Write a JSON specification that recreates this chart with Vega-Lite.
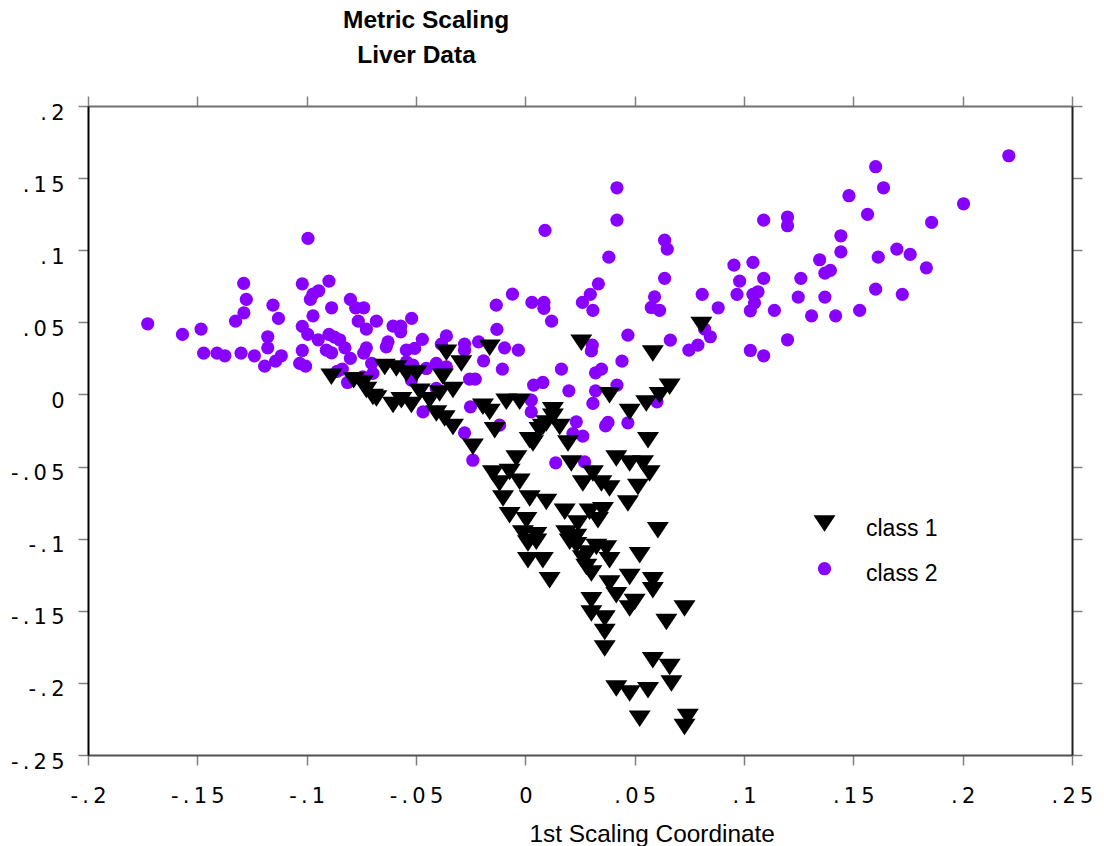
{
  "$schema": "https://vega.github.io/schema/vega-lite/v6.json",
  "autosize": {"type": "none"},
  "width": 984,
  "height": 649,
  "padding": {"left": 88, "top": 106, "right": 32, "bottom": 91},
  "background": "white",
  "title": {
    "text": ["Metric Scaling", "\u200b\u2002\u200aLiver Data"],
    "anchor": "start",
    "frame": "group",
    "dx": 255,
    "offset": 27,
    "font": "Liberation Sans",
    "fontSize": 24.5,
    "fontWeight": "bold",
    "lineHeight": 35,
    "color": "black"
  },
  "config": {
    "view": {"stroke": null},
    "axis": {
      "grid": false,
      "labelFont": "DejaVu Sans",
      "labelFontSize": 21,
      "labelColor": "black",
      "titleFont": "Liberation Sans",
      "titleFontSize": 24.4,
      "titleFontWeight": "normal",
      "titleColor": "black",
      "tickSize": 10,
      "tickColor": "#808080",
      "tickWidth": 1.5,
      "domainWidth": 2
    },
    "legend": {
      "labelFont": "Liberation Sans",
      "labelFontSize": 23,
      "labelColor": "black",
      "symbolStrokeWidth": 0,
      "padding": 0
    }
  },
  "layer": [
    {
      "mark": {"type": "rule", "color": "#c0c0c0", "strokeWidth": 2},
      "encoding": {
        "x": {
          "datum": 0,
          "type": "quantitative",
          "scale": {"domain": [-0.2, 0.25], "nice": false, "zero": false},
          "axis": {"orient": "top", "labels": false, "title": null, "values": [-0.2, -0.15, -0.1, -0.05, 0, 0.05, 0.1, 0.15, 0.2, 0.25], "domainColor": "#707070"}
        }
      }
    },
    {
      "mark": {"type": "rule", "color": "#c0c0c0", "strokeWidth": 2},
      "encoding": {
        "y": {
          "datum": 0,
          "type": "quantitative",
          "scale": {"domain": [-0.25, 0.2], "nice": false, "zero": false},
          "axis": {"orient": "right", "labels": false, "title": null, "values": [-0.25, -0.2, -0.15, -0.1, -0.05, 0, 0.05, 0.1, 0.15, 0.2], "domainColor": "#202020"}
        }
      }
    },
    {
      "data": {
        "values": [
          {"class": "class 2", "x": -0.1727, "y": 0.0490},
          {"class": "class 2", "x": -0.1568, "y": 0.0416},
          {"class": "class 2", "x": -0.1483, "y": 0.0453},
          {"class": "class 2", "x": -0.1471, "y": 0.0286},
          {"class": "class 2", "x": -0.1410, "y": 0.0286},
          {"class": "class 2", "x": -0.1374, "y": 0.0268},
          {"class": "class 2", "x": -0.1300, "y": 0.0286},
          {"class": "class 2", "x": -0.1239, "y": 0.0268},
          {"class": "class 2", "x": -0.1192, "y": 0.0196},
          {"class": "class 2", "x": -0.1142, "y": 0.0231},
          {"class": "class 2", "x": -0.1116, "y": 0.0268},
          {"class": "class 2", "x": -0.1178, "y": 0.0400},
          {"class": "class 2", "x": -0.1178, "y": 0.0323},
          {"class": "class 2", "x": -0.1154, "y": 0.0619},
          {"class": "class 2", "x": -0.1129, "y": 0.0527},
          {"class": "class 2", "x": -0.1288, "y": 0.0770},
          {"class": "class 2", "x": -0.1276, "y": 0.0659},
          {"class": "class 2", "x": -0.1287, "y": 0.0566},
          {"class": "class 2", "x": -0.1325, "y": 0.0508},
          {"class": "class 2", "x": -0.0994, "y": 0.1082},
          {"class": "class 2", "x": -0.1020, "y": 0.0767},
          {"class": "class 2", "x": -0.0983, "y": 0.0659},
          {"class": "class 2", "x": -0.0971, "y": 0.0696},
          {"class": "class 2", "x": -0.0945, "y": 0.0719},
          {"class": "class 2", "x": -0.0898, "y": 0.0786},
          {"class": "class 2", "x": -0.0886, "y": 0.0601},
          {"class": "class 2", "x": -0.0971, "y": 0.0545},
          {"class": "class 2", "x": -0.1020, "y": 0.0472},
          {"class": "class 2", "x": -0.0995, "y": 0.0416},
          {"class": "class 2", "x": -0.0947, "y": 0.0379},
          {"class": "class 2", "x": -0.0898, "y": 0.0416},
          {"class": "class 2", "x": -0.0873, "y": 0.0397},
          {"class": "class 2", "x": -0.0849, "y": 0.0379},
          {"class": "class 2", "x": -0.1020, "y": 0.0305},
          {"class": "class 2", "x": -0.1032, "y": 0.0215},
          {"class": "class 2", "x": -0.1005, "y": 0.0196},
          {"class": "class 2", "x": -0.0910, "y": 0.0307},
          {"class": "class 2", "x": -0.0886, "y": 0.0289},
          {"class": "class 2", "x": -0.0825, "y": 0.0323},
          {"class": "class 2", "x": -0.0800, "y": 0.0250},
          {"class": "class 2", "x": -0.0800, "y": 0.0659},
          {"class": "class 2", "x": -0.0776, "y": 0.0601},
          {"class": "class 2", "x": -0.0739, "y": 0.0601},
          {"class": "class 2", "x": -0.0764, "y": 0.0508},
          {"class": "class 2", "x": -0.0727, "y": 0.0453},
          {"class": "class 2", "x": -0.0681, "y": 0.0508},
          {"class": "class 2", "x": -0.0727, "y": 0.0323},
          {"class": "class 2", "x": -0.0739, "y": 0.0286},
          {"class": "class 2", "x": -0.0703, "y": 0.0215},
          {"class": "class 2", "x": -0.0861, "y": 0.0160},
          {"class": "class 2", "x": -0.0837, "y": 0.0176},
          {"class": "class 2", "x": -0.0813, "y": 0.0083},
          {"class": "class 2", "x": -0.0743, "y": 0.0122},
          {"class": "class 2", "x": -0.0697, "y": 0.0146},
          {"class": "class 2", "x": -0.0605, "y": 0.0474},
          {"class": "class 2", "x": -0.0570, "y": 0.0474},
          {"class": "class 2", "x": -0.0570, "y": 0.0434},
          {"class": "class 2", "x": -0.0520, "y": 0.0527},
          {"class": "class 2", "x": -0.0628, "y": 0.0365},
          {"class": "class 2", "x": -0.0636, "y": 0.0330},
          {"class": "class 2", "x": -0.0544, "y": 0.0307},
          {"class": "class 2", "x": -0.0506, "y": 0.0319},
          {"class": "class 2", "x": -0.0471, "y": 0.0382},
          {"class": "class 2", "x": -0.0361, "y": 0.0406},
          {"class": "class 2", "x": -0.0384, "y": 0.0349},
          {"class": "class 2", "x": -0.0278, "y": 0.0349},
          {"class": "class 2", "x": -0.0278, "y": 0.0307},
          {"class": "class 2", "x": -0.0214, "y": 0.0365},
          {"class": "class 2", "x": -0.0133, "y": 0.0619},
          {"class": "class 2", "x": -0.0059, "y": 0.0696},
          {"class": "class 2", "x": -0.0130, "y": 0.0451},
          {"class": "class 2", "x": -0.0095, "y": 0.0323},
          {"class": "class 2", "x": -0.0032, "y": 0.0307},
          {"class": "class 2", "x": -0.0191, "y": 0.0233},
          {"class": "class 2", "x": -0.0105, "y": 0.0176},
          {"class": "class 2", "x": -0.0255, "y": 0.0106},
          {"class": "class 2", "x": -0.0229, "y": 0.0106},
          {"class": "class 2", "x": 0.0030, "y": 0.0638},
          {"class": "class 2", "x": 0.0085, "y": 0.0638},
          {"class": "class 2", "x": 0.0085, "y": 0.0597},
          {"class": "class 2", "x": 0.0038, "y": 0.0065},
          {"class": "class 2", "x": 0.0080, "y": 0.0083},
          {"class": "class 2", "x": 0.0120, "y": 0.0508},
          {"class": "class 2", "x": -0.0544, "y": 0.0226},
          {"class": "class 2", "x": -0.0514, "y": 0.0203},
          {"class": "class 2", "x": -0.0453, "y": 0.0180},
          {"class": "class 2", "x": -0.0407, "y": 0.0215},
          {"class": "class 2", "x": -0.0361, "y": 0.0191},
          {"class": "class 2", "x": -0.0407, "y": 0.0042},
          {"class": "class 2", "x": -0.0521, "y": 0.0099},
          {"class": "class 2", "x": -0.0468, "y": -0.0121},
          {"class": "class 2", "x": -0.0251, "y": -0.0086},
          {"class": "class 2", "x": -0.0118, "y": -0.0213},
          {"class": "class 2", "x": -0.0278, "y": -0.0266},
          {"class": "class 2", "x": -0.0240, "y": -0.0456},
          {"class": "class 2", "x": 0.0027, "y": -0.0040},
          {"class": "class 2", "x": 0.0027, "y": -0.0121},
          {"class": "class 2", "x": 0.0165, "y": 0.0176},
          {"class": "class 2", "x": 0.0199, "y": 0.0025},
          {"class": "class 2", "x": 0.0321, "y": 0.0150},
          {"class": "class 2", "x": 0.0348, "y": 0.0176},
          {"class": "class 2", "x": 0.0306, "y": 0.0342},
          {"class": "class 2", "x": 0.0302, "y": 0.0302},
          {"class": "class 2", "x": 0.0469, "y": 0.0411},
          {"class": "class 2", "x": 0.0442, "y": 0.0231},
          {"class": "class 2", "x": 0.0419, "y": 0.0065},
          {"class": "class 2", "x": 0.0321, "y": 0.0025},
          {"class": "class 2", "x": 0.0309, "y": -0.0062},
          {"class": "class 2", "x": 0.0663, "y": 0.0377},
          {"class": "class 2", "x": 0.0748, "y": 0.0307},
          {"class": "class 2", "x": 0.0789, "y": 0.0342},
          {"class": "class 2", "x": 0.0233, "y": -0.0190},
          {"class": "class 2", "x": 0.0218, "y": -0.0271},
          {"class": "class 2", "x": 0.0263, "y": -0.0289},
          {"class": "class 2", "x": 0.0378, "y": -0.0194},
          {"class": "class 2", "x": 0.0367, "y": -0.0218},
          {"class": "class 2", "x": 0.0469, "y": -0.0197},
          {"class": "class 2", "x": 0.0139, "y": -0.0474},
          {"class": "class 2", "x": 0.0271, "y": -0.0468},
          {"class": "class 2", "x": 0.0602, "y": -0.0051},
          {"class": "class 2", "x": 0.0419, "y": 0.1433},
          {"class": "class 2", "x": 0.0419, "y": 0.1209},
          {"class": "class 2", "x": 0.0090, "y": 0.1138},
          {"class": "class 2", "x": 0.0637, "y": 0.1070},
          {"class": "class 2", "x": 0.0649, "y": 0.1008},
          {"class": "class 2", "x": 0.0382, "y": 0.0952},
          {"class": "class 2", "x": 0.0334, "y": 0.0767},
          {"class": "class 2", "x": 0.0297, "y": 0.0694},
          {"class": "class 2", "x": 0.0261, "y": 0.0638},
          {"class": "class 2", "x": 0.0309, "y": 0.0583},
          {"class": "class 2", "x": 0.0637, "y": 0.0805},
          {"class": "class 2", "x": 0.0591, "y": 0.0677},
          {"class": "class 2", "x": 0.0576, "y": 0.0603},
          {"class": "class 2", "x": 0.0614, "y": 0.0583},
          {"class": "class 2", "x": 0.0809, "y": 0.0694},
          {"class": "class 2", "x": 0.0882, "y": 0.0601},
          {"class": "class 2", "x": 0.0954, "y": 0.0897},
          {"class": "class 2", "x": 0.1041, "y": 0.0916},
          {"class": "class 2", "x": 0.0980, "y": 0.0786},
          {"class": "class 2", "x": 0.0968, "y": 0.0694},
          {"class": "class 2", "x": 0.1041, "y": 0.0694},
          {"class": "class 2", "x": 0.1064, "y": 0.0712},
          {"class": "class 2", "x": 0.1048, "y": 0.0635},
          {"class": "class 2", "x": 0.1029, "y": 0.0580},
          {"class": "class 2", "x": 0.1090, "y": 0.0805},
          {"class": "class 2", "x": 0.1090, "y": 0.1209},
          {"class": "class 2", "x": 0.0820, "y": 0.0453},
          {"class": "class 2", "x": 0.0846, "y": 0.0400},
          {"class": "class 2", "x": 0.1029, "y": 0.0305},
          {"class": "class 2", "x": 0.1090, "y": 0.0268},
          {"class": "class 2", "x": 0.2211, "y": 0.1655},
          {"class": "class 2", "x": 0.1602, "y": 0.1579},
          {"class": "class 2", "x": 0.1638, "y": 0.1433},
          {"class": "class 2", "x": 0.1480, "y": 0.1378},
          {"class": "class 2", "x": 0.1565, "y": 0.1249},
          {"class": "class 2", "x": 0.2004, "y": 0.1322},
          {"class": "class 2", "x": 0.1858, "y": 0.1193},
          {"class": "class 2", "x": 0.1199, "y": 0.1230},
          {"class": "class 2", "x": 0.1199, "y": 0.1170},
          {"class": "class 2", "x": 0.1443, "y": 0.1100},
          {"class": "class 2", "x": 0.1443, "y": 0.0989},
          {"class": "class 2", "x": 0.1346, "y": 0.0934},
          {"class": "class 2", "x": 0.1370, "y": 0.0841},
          {"class": "class 2", "x": 0.1395, "y": 0.0860},
          {"class": "class 2", "x": 0.1614, "y": 0.0952},
          {"class": "class 2", "x": 0.1699, "y": 0.1008},
          {"class": "class 2", "x": 0.1760, "y": 0.0971},
          {"class": "class 2", "x": 0.1834, "y": 0.0878},
          {"class": "class 2", "x": 0.1260, "y": 0.0805},
          {"class": "class 2", "x": 0.1248, "y": 0.0675},
          {"class": "class 2", "x": 0.1370, "y": 0.0675},
          {"class": "class 2", "x": 0.1309, "y": 0.0545},
          {"class": "class 2", "x": 0.1419, "y": 0.0545},
          {"class": "class 2", "x": 0.1529, "y": 0.0583},
          {"class": "class 2", "x": 0.1602, "y": 0.0730},
          {"class": "class 2", "x": 0.1724, "y": 0.0694},
          {"class": "class 2", "x": 0.1139, "y": 0.0583},
          {"class": "class 2", "x": 0.1199, "y": 0.0379},
          {"class": "class 1", "x": -0.0887, "y": 0.0122},
          {"class": "class 1", "x": -0.0785, "y": 0.0099},
          {"class": "class 1", "x": -0.0743, "y": 0.0076},
          {"class": "class 1", "x": -0.0697, "y": -0.0017},
          {"class": "class 1", "x": -0.0643, "y": 0.0191},
          {"class": "class 1", "x": -0.0590, "y": 0.0180},
          {"class": "class 1", "x": -0.0544, "y": 0.0146},
          {"class": "class 1", "x": -0.0498, "y": 0.0146},
          {"class": "class 1", "x": -0.0361, "y": 0.0289},
          {"class": "class 1", "x": -0.0293, "y": 0.0215},
          {"class": "class 1", "x": -0.0163, "y": 0.0323},
          {"class": "class 1", "x": -0.0377, "y": 0.0122},
          {"class": "class 1", "x": -0.0727, "y": 0.0030},
          {"class": "class 1", "x": -0.0681, "y": -0.0028},
          {"class": "class 1", "x": -0.0605, "y": -0.0074},
          {"class": "class 1", "x": -0.0567, "y": -0.0040},
          {"class": "class 1", "x": -0.0521, "y": -0.0074},
          {"class": "class 1", "x": -0.0483, "y": 0.0018},
          {"class": "class 1", "x": -0.0438, "y": -0.0040},
          {"class": "class 1", "x": -0.0392, "y": 0.0007},
          {"class": "class 1", "x": -0.0331, "y": 0.0030},
          {"class": "class 1", "x": -0.0407, "y": -0.0132},
          {"class": "class 1", "x": -0.0331, "y": -0.0225},
          {"class": "class 1", "x": -0.0369, "y": -0.0166},
          {"class": "class 1", "x": -0.0194, "y": -0.0086},
          {"class": "class 1", "x": -0.0163, "y": -0.0121},
          {"class": "class 1", "x": -0.0140, "y": -0.0248},
          {"class": "class 1", "x": -0.0087, "y": -0.0051},
          {"class": "class 1", "x": -0.0026, "y": -0.0051},
          {"class": "class 1", "x": -0.0240, "y": -0.0363},
          {"class": "class 1", "x": -0.0041, "y": -0.0444},
          {"class": "class 1", "x": 0.0035, "y": -0.0340},
          {"class": "class 1", "x": 0.0080, "y": -0.0225},
          {"class": "class 1", "x": 0.0256, "y": 0.0358},
          {"class": "class 1", "x": 0.0583, "y": 0.0284},
          {"class": "class 1", "x": 0.0660, "y": 0.0053},
          {"class": "class 1", "x": 0.0614, "y": -0.0005},
          {"class": "class 1", "x": 0.0553, "y": -0.0062},
          {"class": "class 1", "x": 0.0477, "y": -0.0121},
          {"class": "class 1", "x": 0.0385, "y": -0.0005},
          {"class": "class 1", "x": 0.0126, "y": -0.0109},
          {"class": "class 1", "x": 0.0126, "y": -0.0155},
          {"class": "class 1", "x": 0.0096, "y": -0.0201},
          {"class": "class 1", "x": 0.0157, "y": -0.0225},
          {"class": "class 1", "x": 0.0065, "y": -0.0248},
          {"class": "class 1", "x": 0.0020, "y": -0.0317},
          {"class": "class 1", "x": 0.0195, "y": -0.0340},
          {"class": "class 1", "x": -0.0072, "y": -0.0537},
          {"class": "class 1", "x": -0.0148, "y": -0.0548},
          {"class": "class 1", "x": -0.0118, "y": -0.0617},
          {"class": "class 1", "x": -0.0026, "y": -0.0606},
          {"class": "class 1", "x": -0.0102, "y": -0.0721},
          {"class": "class 1", "x": 0.0020, "y": -0.0721},
          {"class": "class 1", "x": 0.0096, "y": -0.0745},
          {"class": "class 1", "x": -0.0072, "y": -0.0837},
          {"class": "class 1", "x": 0.0005, "y": -0.0872},
          {"class": "class 1", "x": -0.0011, "y": -0.0964},
          {"class": "class 1", "x": 0.0050, "y": -0.0976},
          {"class": "class 1", "x": 0.0012, "y": -0.1034},
          {"class": "class 1", "x": 0.0012, "y": -0.1149},
          {"class": "class 1", "x": 0.0080, "y": -0.1149},
          {"class": "class 1", "x": 0.0180, "y": -0.0814},
          {"class": "class 1", "x": 0.0187, "y": -0.0964},
          {"class": "class 1", "x": 0.0233, "y": -0.0988},
          {"class": "class 1", "x": 0.0241, "y": -0.0895},
          {"class": "class 1", "x": 0.0294, "y": -0.0814},
          {"class": "class 1", "x": 0.0355, "y": -0.0803},
          {"class": "class 1", "x": 0.0332, "y": -0.0872},
          {"class": "class 1", "x": 0.0210, "y": -0.0479},
          {"class": "class 1", "x": 0.0263, "y": -0.0617},
          {"class": "class 1", "x": 0.0309, "y": -0.0548},
          {"class": "class 1", "x": 0.0348, "y": -0.0617},
          {"class": "class 1", "x": 0.0385, "y": -0.0652},
          {"class": "class 1", "x": 0.0416, "y": -0.0444},
          {"class": "class 1", "x": 0.0477, "y": -0.0479},
          {"class": "class 1", "x": 0.0538, "y": -0.0479},
          {"class": "class 1", "x": 0.0568, "y": -0.0548},
          {"class": "class 1", "x": 0.0515, "y": -0.0641},
          {"class": "class 1", "x": 0.0469, "y": -0.0756},
          {"class": "class 1", "x": 0.0561, "y": -0.0317},
          {"class": "class 1", "x": 0.0606, "y": -0.0941},
          {"class": "class 1", "x": 0.0325, "y": -0.1057},
          {"class": "class 1", "x": 0.0370, "y": -0.1068},
          {"class": "class 1", "x": 0.0286, "y": -0.1103},
          {"class": "class 1", "x": 0.0263, "y": -0.1138},
          {"class": "class 1", "x": 0.0385, "y": -0.1149},
          {"class": "class 1", "x": 0.0523, "y": -0.1115},
          {"class": "class 1", "x": 0.0279, "y": -0.1196},
          {"class": "class 1", "x": 0.0050, "y": -0.1022},
          {"class": "class 1", "x": 0.0111, "y": -0.1288},
          {"class": "class 1", "x": 0.0203, "y": -0.1022},
          {"class": "class 1", "x": 0.0233, "y": -0.1045},
          {"class": "class 1", "x": 0.0302, "y": -0.1242},
          {"class": "class 1", "x": 0.0385, "y": -0.1311},
          {"class": "class 1", "x": 0.0416, "y": -0.1392},
          {"class": "class 1", "x": 0.0477, "y": -0.1265},
          {"class": "class 1", "x": 0.0583, "y": -0.1288},
          {"class": "class 1", "x": 0.0583, "y": -0.1358},
          {"class": "class 1", "x": 0.0500, "y": -0.1439},
          {"class": "class 1", "x": 0.0477, "y": -0.1484},
          {"class": "class 1", "x": 0.0302, "y": -0.1427},
          {"class": "class 1", "x": 0.0302, "y": -0.1519},
          {"class": "class 1", "x": 0.0363, "y": -0.1554},
          {"class": "class 1", "x": 0.0363, "y": -0.1647},
          {"class": "class 1", "x": 0.0363, "y": -0.1762},
          {"class": "class 1", "x": 0.0728, "y": -0.1484},
          {"class": "class 1", "x": 0.0645, "y": -0.1577},
          {"class": "class 1", "x": 0.0583, "y": -0.1843},
          {"class": "class 1", "x": 0.0660, "y": -0.1890},
          {"class": "class 1", "x": 0.0668, "y": -0.2005},
          {"class": "class 1", "x": 0.0416, "y": -0.2039},
          {"class": "class 1", "x": 0.0477, "y": -0.2074},
          {"class": "class 1", "x": 0.0561, "y": -0.2051},
          {"class": "class 1", "x": 0.0523, "y": -0.2248},
          {"class": "class 1", "x": 0.0743, "y": -0.2236},
          {"class": "class 1", "x": 0.0728, "y": -0.2306},
          {"class": "class 1", "x": 0.0805, "y": 0.0481}
        ]
      },
      "mark": {"type": "point", "filled": true, "opacity": 1, "strokeWidth": 0},
      "encoding": {
        "x": {
          "field": "x",
          "type": "quantitative",
          "scale": {"domain": [-0.2, 0.25], "nice": false, "zero": false},
          "axis": {
            "orient": "bottom",
            "values": [-0.2, -0.15, -0.1, -0.05, 0, 0.05, 0.1, 0.15, 0.2, 0.25],
            "labelExpr": "datum.value == 0 ? '0' : join(split((datum.value < 0 ? '-' : '') + replace(toString(abs(datum.value)), '0.', '.'), ''), '\u2009')",
            "labelBaseline": "middle",
            "labelPadding": 31,
            "labelFlush": false,
            "domainColor": "#505050",
            "title": "1st Scaling Coordinate",
            "titleAlign": "left",
            "titleAnchor": "start",
            "titleX": 441,
            "titleY": 86,
            "titleBaseline": "alphabetic"
          }
        },
        "y": {
          "field": "y",
          "type": "quantitative",
          "scale": {"domain": [-0.25, 0.2], "nice": false, "zero": false},
          "axis": {
            "orient": "left",
            "values": [-0.25, -0.2, -0.15, -0.1, -0.05, 0, 0.05, 0.1, 0.15, 0.2],
            "labelExpr": "datum.value == 0 ? '0' : join(split((datum.value < 0 ? '-' : '') + replace(toString(abs(datum.value)), '0.', '.'), ''), '\u2009')",
            "labelBaseline": "middle",
            "labelOffset": 7,
            "labelPadding": 14,
            "labelFlush": false,
            "domainColor": "black",
            "title": null
          }
        },
        "color": {
          "field": "class",
          "type": "nominal",
          "scale": {"domain": ["class 1", "class 2"], "range": ["#000000", "#8800ff"]},
          "legend": {"orient": "none", "legendX": 725, "legendY": 406, "title": null, "labelOffset": 30, "rowPadding": 16.2, "encoding": {"labels": {"dy": {"value": 5.1}}}}
        },
        "shape": {
          "field": "class",
          "type": "nominal",
          "scale": {"domain": ["class 1", "class 2"], "range": ["M-1,-0.75L1,-0.75L0,0.75Z", "circle"]},
          "legend": {"orient": "none", "legendX": 725, "legendY": 406, "title": null, "labelOffset": 30, "rowPadding": 16.2, "encoding": {"labels": {"dy": {"value": 5.1}}}}
        },
        "size": {
          "field": "class",
          "type": "nominal",
          "scale": {"domain": ["class 1", "class 2"], "range": [484, 175]},
          "legend": {"orient": "none", "legendX": 725, "legendY": 406, "title": null, "labelOffset": 30, "rowPadding": 16.2, "encoding": {"labels": {"dy": {"value": 5.1}}}}
        }
      }
    }
  ]
}
